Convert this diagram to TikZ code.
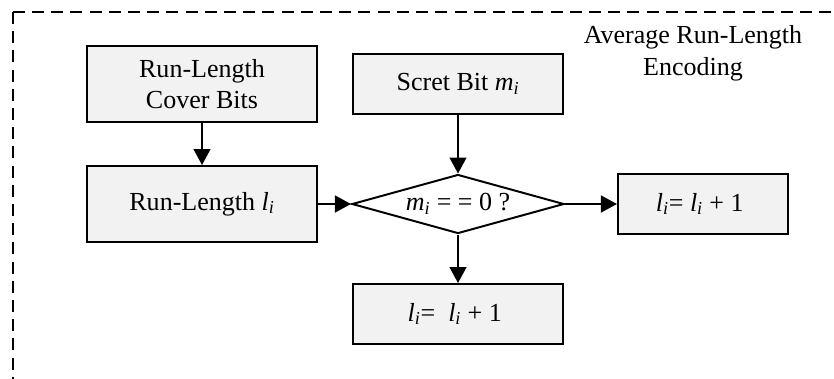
\documentclass[tikz,border=0pt]{standalone}
\usepackage{fontspec}
\setmainfont{Liberation Serif}
\usepackage{tikz}
\usetikzlibrary{shapes.geometric, arrows.meta}
\definecolor{boxgray}{HTML}{F2F2F2}
\newcommand{\lsub}{\textit{l}\textsubscript{\textit{i}}}
\newcommand{\msub}{\textit{m}\textsubscript{\textit{i}}}
\tikzset{
	procnode/.style={
			rectangle,
			draw=black,
			line width=1.4pt,
			fill=boxgray,
			align=center,
			font=\fontsize{18.5pt}{22.5pt}\selectfont,
			inner sep=0pt
		},
	decnode/.style={
			diamond,
			draw=black,
			line width=1.4pt,
			fill=white,
			aspect=3.6,
			font=\fontsize{18.5pt}{22.5pt}\selectfont,
			minimum width=5.3cm,
			minimum height=1.475cm,
			inner sep=0pt
		},
	labelnode/.style={
			align=center,
			font=\fontsize{18.5pt}{22.5pt}\selectfont,
			inner sep=0pt
		},
	flowarrow/.style={
			line width=1.4pt,
			-{Triangle[length=0.4cm, width=0.42cm]}
		}
}

\begin{document}
\begin{tikzpicture}[x=0.025cm, y=-0.025cm]
\clip (0,0) rectangle (834,378);
\draw[line width=1.4pt, dash pattern=on 0.3cm off 0.18cm] (13,12) rectangle (860,400);

\node[procnode, minimum width=5.75cm, minimum height=1.9cm] (cover) at (202,84)  { Run-Length\\Cover Bits };
\node[procnode, minimum width=5.25cm, minimum height=1.5cm] (secret) at (458,84)  { Scret Bit \msub };
\node[procnode, minimum width=5.75cm, minimum height=1.9cm] (runlen) at (202,204)  { Run-Length \lsub };
\node[decnode] (check) at (458,204)  { \msub\ = = 0 ? };
\node[procnode, minimum width=4.25cm, minimum height=1.5cm] (incright) at (703,204)  { \lsub= \lsub\ + 1 };
\node[procnode, minimum width=5.25cm, minimum height=1.5cm] (incdown) at (458,314)  { \lsub=\ \ \lsub\ + 1 };
\node[labelnode] (title) at (693,53)  { Average Run-Length\\Encoding };

\draw[flowarrow] (cover) -- (runlen);
\draw[flowarrow] (secret) -- (check);
\draw[flowarrow] (runlen) -- (check);
\draw[flowarrow] (check) -- (incright);
\draw[flowarrow] (check) -- (incdown);
\end{tikzpicture}
\end{document}
